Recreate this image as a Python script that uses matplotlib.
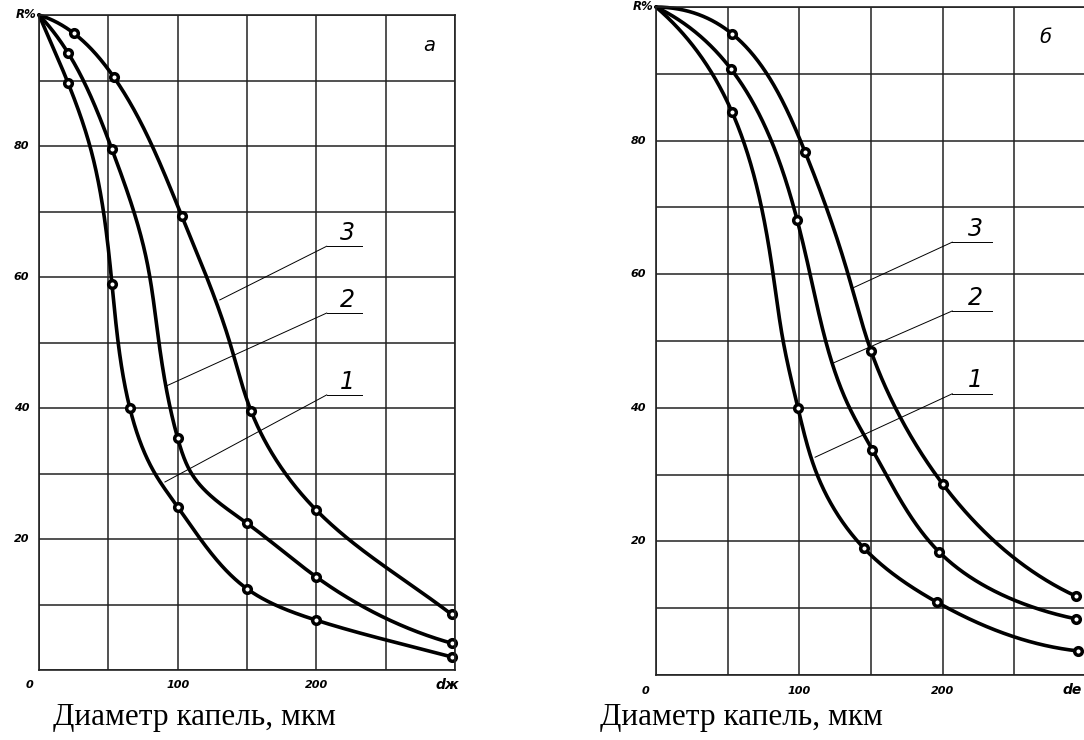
import numpy as np
import matplotlib
matplotlib.use("Agg")
import matplotlib.pyplot as plt

# ---------------- data ----------------
# panel a : marked points
a_x1 = [0, 21, 52.6, 65.5, 100, 150, 200, 297.5]
a_y1 = [100, 89.6, 59.0, 40.0, 24.9, 12.4, 7.6, 2.0]
a_x2 = [0, 21, 52.6, 100, 150, 200, 297.5]
a_y2 = [100, 94.2, 79.5, 35.4, 22.4, 14.2, 4.1]
a_x3 = [0, 25.2, 54, 103, 153, 200, 297.5]
a_y3 = [100, 97.2, 90.5, 69.3, 39.5, 24.4, 8.5]
# panel a : extra points (no markers)
a_tx1 = [36.7, 83.6, 250]
a_ty1 = [80, 30, 4.6]
a_tx2 = [77.6, 86.5, 110, 250]
a_ty2 = [62.6, 50, 30, 7.9]
a_tx3 = [137.6, 250]
a_ty3 = [50, 15.7]

# panel б : marked points
b_x1 = [0, 53, 99, 145, 196, 294.5]
b_y1 = [100, 84.3, 40.0, 19.0, 10.9, 3.6]
b_x2 = [0, 52.4, 98.5, 151, 197.6, 293]
b_y2 = [100, 90.7, 68.1, 33.7, 18.4, 8.4]
b_x3 = [0, 53, 104, 150, 200, 293]
b_y3 = [100, 96.0, 78.3, 48.5, 28.6, 11.8]
# panel б : extra points
b_tx1 = [81.7, 88.7, 112.4, 250]
b_ty1 = [60, 50, 30, 5.7]
b_tx2 = [107.5, 135, 250]
b_ty2 = [60, 40, 11.2]
b_tx3 = [134, 167, 250]
b_ty3 = [60, 40, 17.5]

y_ticks = [20, 40, 60, 80]
x_tick_vals = [0, 100, 200]
curve_names = ["1", "2", "3"]
caption = "Диаметр капель, мкм"


def spline_nak(t, v, tn):
    """cubic spline with not-a-knot end conditions"""
    t = np.asarray(t, float); v = np.asarray(v, float)
    n = len(t); h = np.diff(t)
    A = np.zeros((n, n)); r = np.zeros(n)
    A[0, 0] = h[1]; A[0, 1] = -(h[0] + h[1]); A[0, 2] = h[0]
    A[-1, -3] = h[-1]; A[-1, -2] = -(h[-2] + h[-1]); A[-1, -1] = h[-2]
    for i in range(1, n - 1):
        A[i, i - 1] = h[i - 1]; A[i, i] = 2 * (h[i - 1] + h[i]); A[i, i + 1] = h[i]
        r[i] = 6 * ((v[i + 1] - v[i]) / h[i] - (v[i] - v[i - 1]) / h[i - 1])
    M = np.linalg.solve(A, r)
    idx = np.clip(np.searchsorted(t, tn) - 1, 0, n - 2)
    hi = h[idx]; a = t[idx + 1] - tn; b = tn - t[idx]
    return (M[idx] * a**3 / (6 * hi) + M[idx + 1] * b**3 / (6 * hi)
            + (v[idx] / hi - M[idx] * hi / 6) * a + (v[idx + 1] / hi - M[idx + 1] * hi / 6) * b)


def smooth_path(x, y, sx, sy, n=900):
    x = np.asarray(x, float); y = np.asarray(y, float)
    seg = np.hypot(np.diff(x) * sx, np.diff(y) * sy)
    t = np.concatenate([[0], np.cumsum(seg)])
    tn = np.linspace(0, t[-1], n)
    return spline_nak(t, x, tn), spline_nak(t, y, tn)


fig = plt.figure(figsize=(10.84, 7.4), dpi=100)
W, H = 1084, 740

def make_axes(l, r, t, b):
    return fig.add_axes([l / W, 1 - b / H, (r - l) / W, (b - t) / H])

axA = make_axes(39, 455, 15, 670)
axB = make_axes(656, 1086, 7, 675)

lab_font = dict(family="DejaVu Sans", style="italic", weight="bold", fontsize=8)

def setup(ax, panel_letter, xlast, xlast_pos, leaders):
    ax.set_xlim(0, 300); ax.set_ylim(0, 100)
    ax.set_xticks(np.arange(0, 301, 50)); ax.set_yticks(np.arange(0, 101, 10))
    ax.grid(True, color="#222222", lw=1.1)
    ax.tick_params(length=0, labelbottom=False, labelleft=False)
    for s in ax.spines.values():
        s.set_color("#222222"); s.set_linewidth(1.2)
    ax.set_axisbelow(True)
    for v in y_ticks:
        ax.text(-7, v, str(v), ha="right", va="center", clip_on=False, **lab_font)
    ax.text(-1.5, 100, "R%", ha="right", va="center", clip_on=False,
            family="DejaVu Sans", style="italic", weight="bold", fontsize=8.5)
    for v in x_tick_vals:
        xv = v - 7 if v == 0 else v
        ax.text(xv, -1.6, str(v), ha="center", va="top", clip_on=False, **lab_font)
    ax.text(xlast_pos, -1.2, xlast, ha="left", va="top", clip_on=False,
            family="DejaVu Sans", style="italic", weight="bold", fontsize=10)
    ax.text(panel_letter[1], 95.4, panel_letter[0], ha="center", va="center",
            family="DejaVu Sans", style="italic", fontsize=14)
    for name, (x0, x1, yl, xe, ye) in zip(curve_names, leaders):
        ax.plot([x0, x1], [yl, yl], color="black", lw=0.7)
        ax.plot([x0, xe], [yl, ye], color="black", lw=0.7)
        ax.text((x0 + x1) / 2 + 2, yl + 0.2, name, ha="center", va="bottom",
                family="DejaVu Sans", style="italic", fontsize=17)


def draw(ax, xs, ys, txs, tys, sx, sy):
    for x, y, tx, ty in zip(xs, ys, txs, tys):
        px = np.array(list(x) + list(tx)); py = np.array(list(y) + list(ty))
        o = np.argsort(px)
        cx, cy = smooth_path(px[o], py[o], sx, sy)
        ax.plot(cx, cy, color="black", lw=2.6, solid_capstyle="round", clip_on=False)
        ax.plot(x[1:], y[1:], "o", ms=5.5, mfc="white", mec="black", mew=2.5,
                clip_on=False)


leadA = [(207.5, 233, 42.0, 90.8, 28.7),
         (207.5, 233, 54.5, 92.2, 43.4),
         (207.5, 233, 64.7, 130.4, 56.5)]
leadB = [(206.7, 234.6, 42.1, 111, 32.6),
         (206.7, 234.6, 54.5, 123.6, 46.7),
         (206.7, 234.6, 64.8, 136.9, 57.9)]

setup(axA, ("а", 281.7), "dж", 286, leadA)
setup(axB, ("б", 271.6), "dе", 283.5, leadB)
draw(axA, [a_x1, a_x2, a_x3], [a_y1, a_y2, a_y3],
     [a_tx1, a_tx2, a_tx3], [a_ty1, a_ty2, a_ty3], 1.388, 6.55)
draw(axB, [b_x1, b_x2, b_x3], [b_y1, b_y2, b_y3],
     [b_tx1, b_tx2, b_tx3], [b_ty1, b_ty2, b_ty3], 1.432, 6.68)

fig.text(53 / W, 1 - 717 / H, caption, ha="left", va="center",
         family="Liberation Serif", fontsize=22.5)
fig.text(600 / W, 1 - 717 / H, caption, ha="left", va="center",
         family="Liberation Serif", fontsize=22.5)

fig.savefig("out.png", dpi=100)
